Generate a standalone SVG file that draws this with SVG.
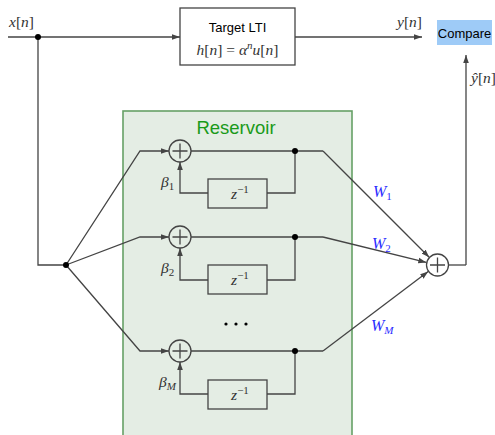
<svg xmlns="http://www.w3.org/2000/svg" width="495" height="435" viewBox="0 0 495 435">
<defs>
<marker id="ah" viewBox="0 0 10 10" refX="10" refY="5" markerWidth="8" markerHeight="8" markerUnits="userSpaceOnUse" orient="auto">
<path d="M0,1.5 L10,5 L0,8.5 z" fill="#444"/>
</marker>
<style>
.ln{fill:none;stroke:#444;stroke-width:1.3}
.arr{fill:none;stroke:#444;stroke-width:1.3;marker-end:url(#ah)}
.box{fill:#fff;stroke:#444;stroke-width:1.3}
.dbox{fill:none;stroke:#444;stroke-width:1.3}
.sum{fill:none;stroke:#444;stroke-width:1.3}
.dot{fill:#000}
.m{font-family:"Liberation Serif","DejaVu Serif",serif;font-size:15.5px;fill:#333}
.i{font-style:italic}
.u{font-style:normal}
.s{font-family:"Liberation Sans",Arial,sans-serif;font-size:13px;fill:#000}
.w{font-family:"Liberation Serif","DejaVu Serif",serif;font-size:16px;fill:#2b2bff}
.sub{font-size:11px}
</style>
</defs>

<g id="reservoir">
<rect x="123" y="111" width="229" height="330" fill="#e4ede4" stroke="#66a066" stroke-width="1.6"/>
<text x="236" y="134" text-anchor="middle" font-family="Liberation Sans,Arial,sans-serif" font-size="18.5" fill="#1a9a1a">Reservoir</text>
</g>

<g id="connectors">
<path class="ln" d="M8,37 H38 V265 H66"/>
<path class="arr" d="M38,37 H180"/>
<path class="arr" d="M295,37 H422"/>
<path class="arr" d="M466,265 V55"/>
<path class="ln" d="M449,265 H466"/>
<path class="arr" d="M66,265 L140,151 H169"/>
<path class="arr" d="M66,265 L140,237 H169"/>
<path class="arr" d="M66,265 L140,351 H169"/>
<path class="ln" d="M191,151 H323"/>
<path class="ln" d="M191,237 H323"/>
<path class="ln" d="M191,351 H323"/>
<path class="arr" d="M323,151 L429.2,257.2"/>
<path class="arr" d="M323,237 L426.3,262.4"/>
<path class="arr" d="M323,351 L428.2,271.6"/>
<path class="ln" d="M295,151 V193 H267"/>
<path class="arr" d="M208,193 H180 V162"/>
<path class="ln" d="M295,237 V280 H267"/>
<path class="arr" d="M208,280 H180 V248"/>
<path class="ln" d="M295,351 V394 H267"/>
<path class="arr" d="M208,394 H180 V362"/>
</g>

<g id="junctions">
<circle class="dot" cx="38" cy="37" r="3"/>
<circle class="dot" cx="66" cy="265" r="3"/>
<circle class="dot" cx="295" cy="151" r="3"/>
<circle class="dot" cx="295" cy="237" r="3"/>
<circle class="dot" cx="295" cy="351" r="3"/>
</g>

<g id="input-label">
<text class="m" x="9" y="27"><tspan class="i">x</tspan>[<tspan class="i">n</tspan>]</text>
</g>

<g id="target-lti">
<rect class="box" x="180" y="8" width="115" height="57"/>
<text class="s" x="237.5" y="32" text-anchor="middle">Target LTI</text>
<text class="m" x="237.5" y="55" text-anchor="middle"><tspan class="i">h</tspan>[<tspan class="i">n</tspan>] = <tspan class="i">α</tspan><tspan class="i sub" dy="-6">n</tspan><tspan class="i" dy="6">u</tspan>[<tspan class="i">n</tspan>]</text>
</g>

<g id="y-label">
<text class="m" x="397" y="27"><tspan class="i">y</tspan>[<tspan class="i">n</tspan>]</text>
</g>

<g id="compare">
<rect x="437" y="20" width="55" height="25" fill="#9ecbf7"/>
<text class="s" x="464.5" y="37.5" text-anchor="middle">Compare</text>
</g>

<g id="yhat-label">
<text class="m" x="471" y="83"><tspan class="i">ŷ</tspan>[<tspan class="i">n</tspan>]</text>
</g>

<g id="sum1">
<circle class="sum" cx="180" cy="151" r="11"/>
<path class="ln" d="M172.5,151 H187.5 M180,143.5 V158.5"/>
<text class="m" x="161" y="187"><tspan class="i">β</tspan><tspan class="sub" dy="3">1</tspan></text>
</g>
<g id="delay1">
<rect class="dbox" x="208" y="179" width="59" height="29"/>
<text class="m" x="240" y="199" text-anchor="middle"><tspan class="i">z</tspan><tspan class="sub" dy="-6">−1</tspan></text>
</g>

<g id="sum2">
<circle class="sum" cx="180" cy="237" r="11"/>
<path class="ln" d="M172.5,237 H187.5 M180,229.5 V244.5"/>
<text class="m" x="161" y="273"><tspan class="i">β</tspan><tspan class="sub" dy="3">2</tspan></text>
</g>
<g id="delay2">
<rect class="dbox" x="208" y="265" width="59" height="29"/>
<text class="m" x="240" y="285" text-anchor="middle"><tspan class="i">z</tspan><tspan class="sub" dy="-6">−1</tspan></text>
</g>

<g id="ellipsis">
<circle class="dot" cx="226" cy="324" r="1.6"/>
<circle class="dot" cx="236" cy="324" r="1.6"/>
<circle class="dot" cx="246" cy="324" r="1.6"/>
</g>

<g id="sumM">
<circle class="sum" cx="180" cy="351" r="11"/>
<path class="ln" d="M172.5,351 H187.5 M180,343.5 V358.5"/>
<text class="m" x="159" y="387"><tspan class="i">β</tspan><tspan class="i sub" dy="3">M</tspan></text>
</g>
<g id="delayM">
<rect class="dbox" x="208" y="380" width="59" height="29"/>
<text class="m" x="240" y="400" text-anchor="middle"><tspan class="i">z</tspan><tspan class="sub" dy="-6">−1</tspan></text>
</g>

<g id="output-sum">
<circle class="sum" cx="437.5" cy="265" r="11"/>
<path class="ln" d="M430,265 H445 M437.5,257.5 V272.5"/>
</g>

<g id="weights">
<text class="w" x="373" y="197"><tspan class="i">W</tspan><tspan class="sub" dy="3">1</tspan></text>
<text class="w" x="372" y="249"><tspan class="i">W</tspan><tspan class="sub" dy="3">2</tspan></text>
<text class="w" x="371" y="331"><tspan class="i">W</tspan><tspan class="i sub" dy="3">M</tspan></text>
</g>
</svg>
